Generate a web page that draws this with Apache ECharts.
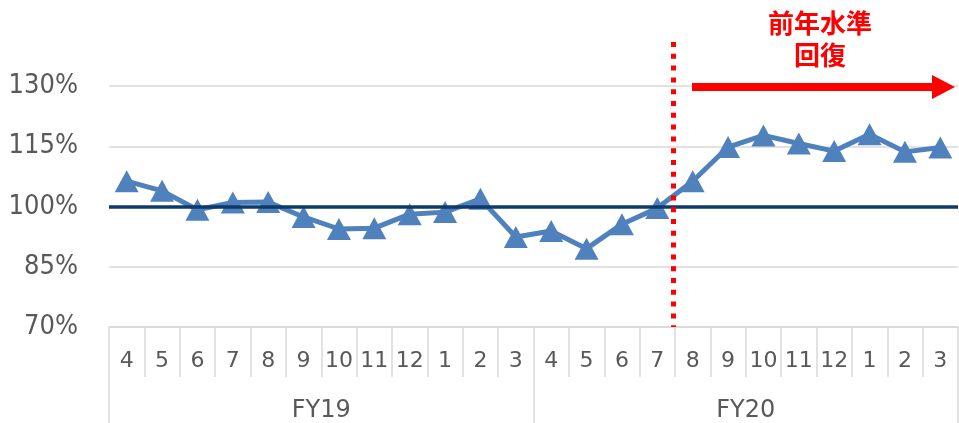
<!DOCTYPE html>
<html>
<head>
<meta charset="utf-8">
<script src="https://cdn.jsdelivr.net/npm/echarts@6/dist/echarts.min.js"></script>
<style>
html,body{margin:0;padding:0;background:#fff;}
#chart{width:959px;height:423px;}
</style>
</head>
<body>
<div id="chart"></div>
<script>
// ---- data ----
const months = ['4','5','6','7','8','9','10','11','12','1','2','3',
                '4','5','6','7','8','9','10','11','12','1','2','3'];
const fiscalYears = ['FY19', 'FY20'];
const ratioFY19 = [106.3, 103.9, 99.2, 101.0, 101.1, 97.4, 94.4, 94.6, 98.1, 98.6, 101.9, 92.4];
const ratioFY20 = [93.9, 89.5, 95.6, 99.6, 106.3, 114.8, 117.7, 115.7, 113.8, 118.0, 113.6, 114.7];
const yTicks = [70, 85, 100, 115, 130];
const baseline = 100;
const annotationText = '前年水準\n回復';
// annotation positions in axis units (category slots 0..24, percent)
const dividerX = 15.95;
const dividerY = [141, 70];
const arrowX = [16.48, 23.59];
const arrowY = 129.8;

const ratio = ratioFY19.concat(ratioFY20);

const chart = echarts.init(document.getElementById('chart'), null, {renderer: 'canvas'});
const gray = '#d9d9d9';
const txt = '#595959';

chart.setOption({
  animation: false,
  backgroundColor: '#fff',
  title: {
    text: annotationText,
    left: 820, top: 7, textAlign: 'center', padding: 0,
    textStyle: {color: '#ff0000', fontSize: 26, fontWeight: 'bold', lineHeight: 32,
      fontFamily: '"Noto Sans CJK JP", sans-serif'}
  },
  grid: [
    {left: 109, right: 1, top: 86, bottom: 96, containLabel: false},
    // annotation overlay: same x span, y extended up to the divider's top (141%)
    {left: 109, right: 1, top: 42, bottom: 96, containLabel: false}
  ],
  xAxis: [
    {
      type: 'category', gridIndex: 0, data: months, boundaryGap: true, position: 'bottom',
      axisLine: {show: true, lineStyle: {color: gray, width: 1.5}},
      axisTick: {show: true, interval: 0, length: 50, lineStyle: {color: gray, width: 1.5}},
      axisLabel: {interval: 0, margin: 23, fontSize: 22, lineHeight: 22, color: txt,
        fontFamily: '"DejaVu Sans", Verdana, sans-serif'},
      splitLine: {show: false}
    },
    {
      type: 'category', gridIndex: 0, data: fiscalYears, boundaryGap: true, position: 'bottom',
      axisLine: {show: false},
      axisTick: {show: true, interval: 0, length: 100, lineStyle: {color: gray, width: 1.5}},
      axisLabel: {interval: 0, margin: 72, fontSize: 24, lineHeight: 24, color: txt,
        fontFamily: '"DejaVu Sans", Verdana, sans-serif'},
      splitLine: {show: false}
    },
    {type: 'value', gridIndex: 1, min: 0, max: 24, show: false}
  ],
  yAxis: [
    {
      type: 'value', gridIndex: 0, min: yTicks[0], max: yTicks[yTicks.length - 1],
      interval: yTicks[1] - yTicks[0],
      axisLine: {show: false}, axisTick: {show: false},
      axisLabel: {formatter: '{value}%', fontSize: 27, color: txt, margin: 31,
        fontFamily: '"DejaVu Sans Condensed", "DejaVu Sans", sans-serif'},
      splitLine: {lineStyle: {color: gray, width: 1.5}}
    },
    {type: 'value', gridIndex: 1, min: dividerY[1], max: dividerY[0], show: false}
  ],
  series: [
    {
      name: 'ratio', type: 'line', xAxisIndex: 0, yAxisIndex: 0, data: ratio,
      showAllSymbol: true, symbol: 'triangle', symbolSize: [24, 22],
      lineStyle: {color: '#4f81bd', width: 5},
      itemStyle: {color: '#4f81bd'},
      z: 3
    },
    {
      name: 'baseline', type: 'line', xAxisIndex: 0, yAxisIndex: 0, data: [], z: 5,
      markLine: {
        silent: true, symbol: ['none', 'none'], label: {show: false},
        lineStyle: {color: '#0e3a6b', width: 3.5, type: 'solid'},
        data: [{yAxis: baseline}]
      }
    },
    {
      name: 'annotations', type: 'line', xAxisIndex: 2, yAxisIndex: 1, data: [], z: 6, clip: false,
      markLine: {
        silent: true, animation: false, label: {show: false},
        data: [
          [
            {coord: [dividerX, dividerY[0]], symbol: 'none',
              lineStyle: {color: '#ff0000', width: 5, type: [5, 6.8]}},
            {coord: [dividerX, dividerY[1]], symbol: 'none'}
          ],
          [
            {coord: [arrowX[0], arrowY], symbol: 'none',
              lineStyle: {color: '#ff0000', width: 8, type: 'solid'}},
            {coord: [arrowX[1], arrowY], symbol: 'triangle', symbolSize: [24, 23]}
          ]
        ]
      }
    }
  ]
});
</script>
</body>
</html>
